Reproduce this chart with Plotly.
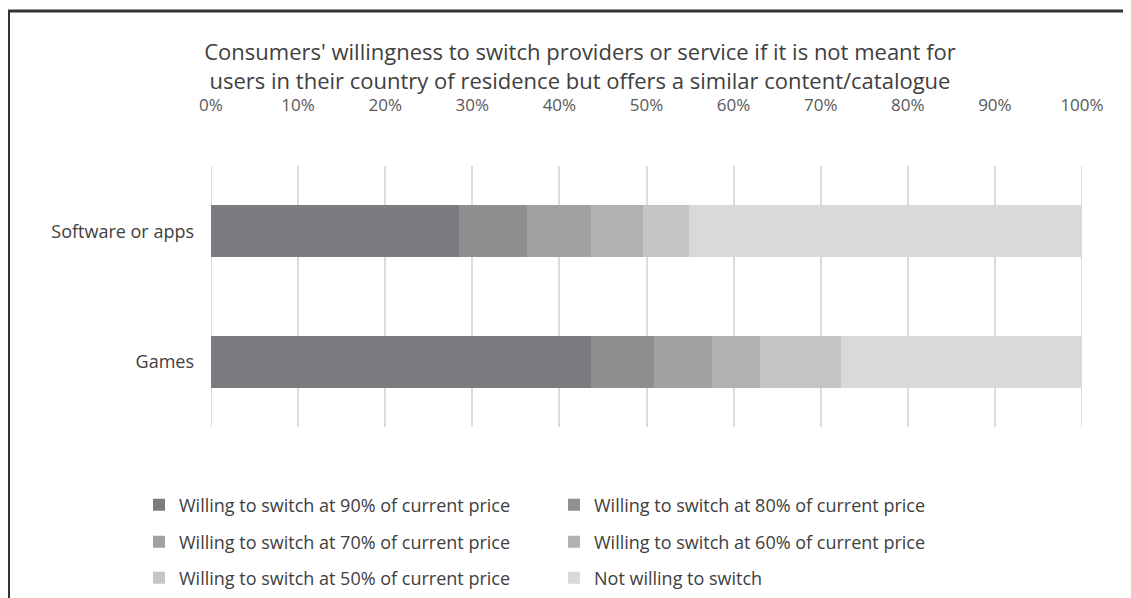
import plotly.graph_objects as go

categories = ["Games", "Software or apps"]
series_names = [
    "Willing to switch at 90% of current price",
    "Willing to switch at 80% of current price",
    "Willing to switch at 70% of current price",
    "Willing to switch at 60% of current price",
    "Willing to switch at 50% of current price",
    "Not willing to switch",
]
games = [43.6, 7.3, 6.6, 5.5, 9.3, 27.7]
software = [28.5, 7.8, 7.3, 6.0, 5.3, 45.1]
colors = ["#7b7c80", "#8e8f91", "#a0a1a3", "#b1b2b4", "#c4c5c7", "#d8d9db"]
tick_vals = [0, 10, 20, 30, 40, 50, 60, 70, 80, 90, 100]
tick_text = [f"{v}%" for v in tick_vals]

W, H = 1131, 598
# page body has an 8px margin; coordinates below are in figure pixels
L, R, T, B = 203, 1074, 158, 419
FONT = "Open Sans"

fig = go.Figure()
legend_ids = ["legend", "legend", "legend2", "legend2", "legend3", "legend3"]
for i, name in enumerate(series_names):
    fig.add_trace(go.Bar(
        y=categories,
        x=[games[i], software[i]],
        name=name,
        orientation="h",
        marker=dict(color=colors[i], line=dict(width=0)),
        width=0.4,
        legend=legend_ids[i],
    ))

def px_x(p):
    return (p - L) / (R - L)

def px_y(p):
    return (B - p) / (B - T)

leg_common = dict(
    orientation="h",
    xanchor="left",
    yanchor="middle",
    x=px_x(131),
    font=dict(family=FONT, size=18, color="#404040"),
    entrywidth=370,
    entrywidthmode="pixels",
    itemwidth=30,
    bgcolor="rgba(0,0,0,0)",
    traceorder="normal",
)

edge_grid = [
    dict(type="line", xref="x", yref="paper", x0=v, x1=v, y0=0, y1=1,
         layer="below", line=dict(color="#dcdcdc", width=2))
    for v in (tick_vals[0], tick_vals[-1])
]

fig.update_layout(
    width=W,
    height=H,
    barmode="stack",
    paper_bgcolor="white",
    plot_bgcolor="white",
    margin=dict(l=L, r=W - R, t=T, b=H - B, autoexpand=False),
    title=dict(
        text="Consumers' willingness to switch providers or service if it is not meant for<br>users in their country of residence but offers a similar content/catalogue",
        x=572 / W,
        xanchor="center",
        y=1 - 52 / H,
        yanchor="middle",
        font=dict(family=FONT, size=22, color="#404040"),
    ),
    xaxis=dict(
        side="top",
        range=[0, 100],
        tickvals=tick_vals,
        ticktext=tick_text,
        showgrid=True,
        gridcolor="#dcdcdc",
        gridwidth=2,
        zeroline=False,
        showline=False,
        ticks="",
        ticklabelstandoff=51,
        tickfont=dict(family=FONT, size=17, color="#595959"),
        fixedrange=True,
    ),
    yaxis=dict(
        range=[-0.5, 1.5],
        showgrid=False,
        zeroline=False,
        showline=False,
        ticks="",
        ticklabelstandoff=16,
        tickfont=dict(family=FONT, size=18, color="#404040"),
        fixedrange=True,
    ),
    legend=dict(leg_common, y=px_y(497)),
    legend2=dict(leg_common, y=px_y(534)),
    legend3=dict(leg_common, y=px_y(570)),
    shapes=edge_grid + [
        dict(type="line", xref="paper", yref="paper",
             x0=px_x(0), x1=px_x(W + 5), y0=px_y(3), y1=px_y(3),
             line=dict(color="#333333", width=3)),
        dict(type="line", xref="paper", yref="paper",
             x0=px_x(0.5), x1=px_x(0.5), y0=px_y(3), y1=px_y(H + 5),
             line=dict(color="#333333", width=3)),
    ],
    showlegend=True,
)

fig.write_html("out.html")
